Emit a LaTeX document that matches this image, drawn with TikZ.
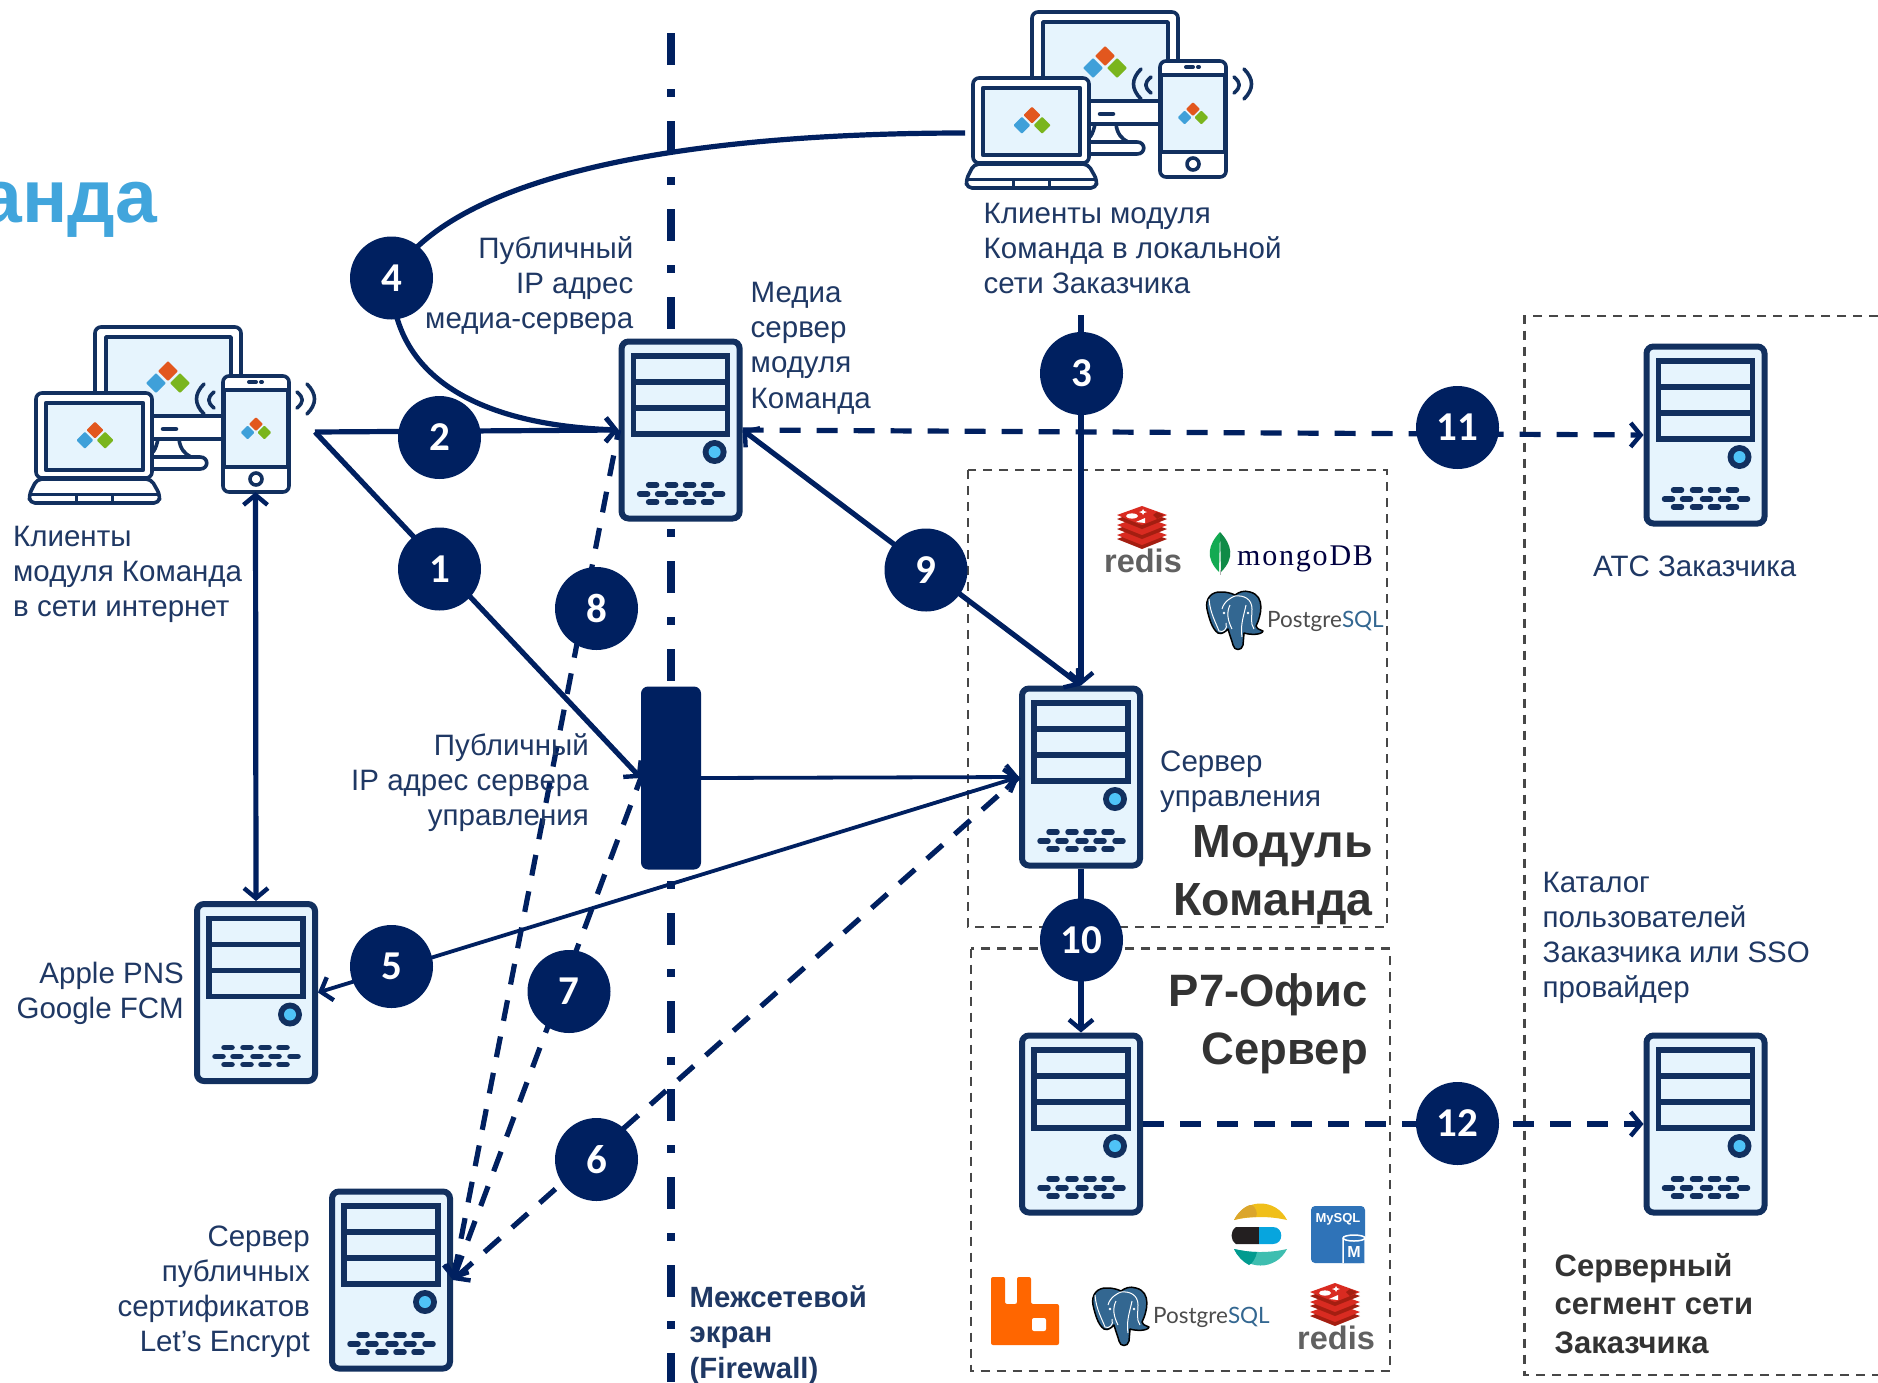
\documentclass[tikz,border=0pt]{standalone}
\usepackage{fontspec}
\setmainfont{Liberation Sans}
\newfontfamily\badgefont{Carlito}
\newfontfamily\mongofont[LetterSpace=6]{Liberation Serif}
\newfontfamily\pgfontx{Lato}
\usetikzlibrary{arrows.meta,shapes.geometric}
\definecolor{nv}{HTML}{002060}
\definecolor{sv}{HTML}{12305F}
\definecolor{lb}{HTML}{E6F4FD}
\definecolor{txt}{HTML}{1F3864}
\definecolor{hd}{HTML}{333333}
\definecolor{ttl}{HTML}{41A5DC}
\definecolor{lo}{HTML}{E2571E}
\definecolor{lbl}{HTML}{3FA0D9}
\definecolor{lg}{HTML}{7AB51D}
\definecolor{rb}{HTML}{D92B21}
\definecolor{rd}{HTML}{A41E11}
\definecolor{pgb}{HTML}{336791}
\definecolor{btn}{HTML}{4FC3F7}
\definecolor{mya}{HTML}{2F73B8}
\definecolor{rmq}{HTML}{FF6600}
\definecolor{elY}{HTML}{F0BF1A}
\definecolor{elYd}{HTML}{DBA62C}
\definecolor{elK}{HTML}{231F20}
\definecolor{elB}{HTML}{07A5DE}
\definecolor{elT}{HTML}{3EBEB0}
\definecolor{elTd}{HTML}{019B8F}
\definecolor{mgA}{HTML}{13AA52}
\definecolor{mgB}{HTML}{0F8B47}
\tikzset{
  x=1pt,y=-1pt,
  srv/.style={rectangle,draw=sv,fill=lb,line width=6pt,rounded corners=7pt,minimum width=118pt,minimum height=177pt,inner sep=0pt},
  badge/.style={circle,fill=nv,text=white,minimum size=83pt,inner sep=0pt,font=\badgefont\bfseries\fontsize{41}{41}\selectfont},
  conn/.style={draw=nv,line width=5.2pt,>={Straight Barb[length=10pt,width=24pt,line width=4.4pt]}},
  thinconn/.style={conn,line width=3.8pt},
  dconn/.style={conn,dash pattern=on 21pt off 16pt},
  dbox/.style={draw=black!72,line width=2.5pt,dash pattern=on 9pt off 7pt},
  txl/.style={anchor=north west,align=left,inner sep=0pt,text=txt,font=\fontsize{29.5}{35.2}\selectfont},
  txr/.style={anchor=north east,align=right,inner sep=0pt,text=txt,font=\fontsize{29.5}{35.2}\selectfont},
  hdr/.style={anchor=north east,align=right,inner sep=0pt,text=hd,font=\bfseries\fontsize{46.5}{58}\selectfont},
  icn/.style={draw=sv,line width=3.6pt,line join=round},
  key/.style={draw=sv,line width=5.5pt,line cap=round},
}
\newcommand{\srvd}[1]{%
  \begin{scope}[shift={(#1.center)}]
    \draw[sv,line width=5.5pt] (-47,-74) rectangle (47,4) (-47,-48) -- (47,-48) (-47,-22) -- (47,-22);
    \fill[sv] (34,22) circle (12);
    \fill[btn] (34,22) circle (6);
    \foreach \xx in {-28,-9,9,27} {\draw[key] (\xx-4,55) -- (\xx+4,55); \draw[key] (\xx-4,72) -- (\xx+4,72);}
    \foreach \xx in {-37,-19,1,19,38} {\draw[key] (\xx-4,64) -- (\xx+4,64);}
  \end{scope}}
\newcommand{\mdlogo}[3]{%
  \begin{scope}[shift={(#1,#2)},scale=#3]
    \fill[lo,rounded corners=1pt] (0,-17) -- (10,-7) -- (0,3) -- (-10,-7) -- cycle;
    \fill[lbl,rounded corners=1pt] (-12,-5) -- (-2,5) -- (-12,15) -- (-22,5) -- cycle;
    \fill[lg,rounded corners=1pt] (12,-5) -- (22,5) -- (12,15) -- (2,5) -- cycle;
  \end{scope}}
\newcommand{\devices}[2]{%
  \begin{scope}[shift={(#1,#2)}]
    \draw[icn,fill=white,rounded corners=6pt] (82,11) rectangle (228,123);
    \draw[icn,fill=lb] (93,21) rectangle (218,100);
    \mdlogo{155}{62}{1}
    \draw[icn,line width=4.5pt,line cap=round] (150,113) -- (163,113);
    \draw[icn,fill=white] (145,123) .. controls (143,133) and (140,138) .. (134,141) -- (187,141) .. controls (196,141) and (196,153) .. (187,153) -- (130,153);
    \draw[icn,fill=white] (166,123) .. controls (167,133) and (172,138) .. (178,141);
    \draw[icn,fill=white,rounded corners=6pt] (23,77) rectangle (139,162);
    \draw[icn,fill=lb,line width=4.2pt] (33,87) rectangle (130,154);
    \mdlogo{82}{120}{.85}
    \draw[icn,fill=white,rounded corners=5pt] (24,163) -- (16,179) -- (17,187) -- (146,187) -- (147,179) -- (138,163) -- cycle;
    \draw[icn,line width=3pt] (18,178) -- (145,178) (63,178) -- (63,187) (99,178) -- (99,187);
    \draw[icn,fill=white,rounded corners=6pt] (210,60) rectangle (276,176);
    \draw[icn,fill=lb,line width=3.2pt] (211,74) rectangle (275,151);
    \draw[icn,line cap=round,line width=4pt] (236,66) -- (243,66) (248,66) -- (249,66);
    \draw[icn,line width=3.6pt] (243,163) circle (6);
    \mdlogo{243}{113}{.7}
    \draw[icn,line cap=round] (191,68) .. controls (181,78) and (181,88) .. (191,98);
    \draw[icn,line cap=round] (201,76) .. controls (194,82) and (194,86) .. (201,92);
    \draw[icn,line cap=round] (294,68) .. controls (304,78) and (304,88) .. (294,98);
    \draw[icn,line cap=round] (284,76) .. controls (291,82) and (291,86) .. (284,92);
  \end{scope}}
\newcommand{\redislogo}[3]{%
  \begin{scope}[shift={(#1,#2)}]
    \foreach \dy in {20,10,0} {
      \fill[rd] (0,4+\dy) -- (25,13+\dy) -- (0,23+\dy) -- (-25,13+\dy) -- cycle;
      \fill[rb] (0,\dy) -- (25,9+\dy) -- (0,19+\dy) -- (-25,9+\dy) -- cycle;
    }
    \fill[white] (-10,10) ellipse (6 and 2.6);
    \fill[white] (1,3) -- (2,5) -- (5,6) -- (2,7) -- (1,9) -- (0,7) -- (-3,6) -- (0,5) -- cycle;
    \fill[white] (-6,16) -- (3,12) -- (3,17) -- cycle;
    \fill[rd] (15,6) -- (22,9) -- (15,13) -- (11,9) -- cycle;
    \node[inner sep=0pt,text=black!62,font=\bfseries\fontsize{32.5}{32.5}\selectfont] (#3) at (1,55) {redis};
  \end{scope}}
\newcommand{\pglogo}[3]{%
  \begin{scope}[shift={(#1,#2)}]
    \draw[black,line width=1.5pt,fill=pgb,line join=round] (16,1) .. controls (5,0) and (-1,8) .. (1,18) .. controls (3,27) and (6,38) .. (12,42) .. controls (16,44) and (20,40) .. (22,38) .. controls (24,45) and (26,50) .. (27,54) .. controls (28,60) and (36,60) .. (37,54) -- (38,42) .. controls (44,44) and (56,44) .. (57,40) .. controls (52,38) and (50,37) .. (50,35) .. controls (55,25) and (60,5) .. (44,1) .. controls (38,-1) and (33,1) .. (29,4) .. controls (25,2) and (20,1) .. (16,1) -- cycle;
    \draw[white,line width=1pt] (3,8) .. controls (4,22) and (10,32) .. (13,40) .. controls (17,42) and (22,38) .. (20,32) (16,18) .. controls (18,10) and (26,6) .. (29,5) .. controls (38,4) and (46,8) .. (46,18) .. controls (46,26) and (44,32) .. (48,38) (24,14) .. controls (20,22) and (22,30) .. (26,38) (40,14) .. controls (38,24) and (34,34) .. (36,46);
    \fill[white] (18,22) circle (1.4) (42,22) circle (1.4);
    \node[anchor=base west,inner sep=0pt,text=black!70,font=\pgfontx\fontsize{22.5}{22.5}\selectfont] (#3) at (61,36) {Postgre\textcolor{pgb}{SQL}};
  \end{scope}}
\begin{document}
\begin{tikzpicture}
\useasboundingbox[fill=white] (0,0) rectangle (1878,1382);
\coordinate (fwtop) at (671,33);
\coordinate (fwbot) at (671,1382);
\draw[nv,line width=8pt,dash pattern=on 32pt off 24pt on 8pt off 24pt] (fwtop) -- (fwbot);
\node[rectangle,fill=nv,rounded corners=7pt,minimum width=60pt,minimum height=183pt,inner sep=0pt] (fw) at (671,778) {};
\draw[dbox] (968,470) rectangle (1387,927);
\draw[dbox] (971,948.5) rectangle (1390,1371);
\coordinate (rbA) at (1878,316);
\coordinate (rbB) at (1524.7,316);
\coordinate (rbC) at (1524.7,1375);
\coordinate (rbD) at (1878,1375);
\draw[dbox] (rbA) -- (rbB) -- (rbC) -- (rbD);
\node[anchor=base east,inner sep=0pt,text=ttl,font=\bfseries\fontsize{75}{75}\selectfont] (title) at (157,222) {анда};
\devices{950}{1}
\devices{13}{316}
\coordinate (topdev) at (965,133);
\coordinate (hub) at (315,432);
\coordinate (phone) at (255.5,492);
\coordinate (lan) at (1081,315);
\node[srv] (ctrl) at (1081,777) {}; \srvd{ctrl}
\node[srv] (p7) at (1081,1124) {}; \srvd{p7}
\node[srv] (media) at (680.6,430) {}; \srvd{media}
\node[srv] (apple) at (256,992.5) {}; \srvd{apple}
\node[srv] (le) at (391,1280) {}; \srvd{le}
\node[srv] (atc) at (1705.5,435) {}; \srvd{atc}
\node[srv] (cat) at (1705.5,1124) {}; \srvd{cat}
\redislogo{1142}{506}{redisA}
\redislogo{1335}{1283}{redisB}
\pglogo{1206}{591}{pgA}
\pglogo{1092}{1287}{pgB}
\fill[mgA] (1220,532) .. controls (1208,545) and (1205,558) .. (1219,572) -- (1220,532);
\fill[mgB] (1220,532) .. controls (1232,545) and (1235,558) .. (1221,572) -- (1220,532);
\draw[black!30,line width=1pt] (1220,570) -- (1220,575);
\node[anchor=base west,inner sep=0pt,text=black!75!blue,font=\mongofont\fontsize{30}{30}\selectfont] (mongo) at (1237,565) {mongoDB};
\fill[elY] (1234,1220) .. controls (1245,1198) and (1276,1198) .. (1287,1220) .. controls (1270,1216) and (1250,1216) .. (1234,1220);
\fill[elYd] (1234,1220) .. controls (1240,1208) and (1250,1204) .. (1252,1205) .. controls (1256,1208) and (1258,1213) .. (1256,1217) .. controls (1248,1217) and (1240,1218) .. (1234,1220);
\fill[elK] (1236,1227) -- (1259,1227) -- (1259,1244) -- (1236,1244) .. controls (1230,1240) and (1230,1231) .. (1236,1227);
\fill[elB] (1259,1227) -- (1273,1227) .. controls (1284,1227) and (1284,1244) .. (1273,1244) -- (1259,1244) -- cycle;
\fill[elT] (1234,1249) .. controls (1250,1253) and (1270,1253) .. (1287,1249) .. controls (1276,1271) and (1245,1271) .. (1234,1249);
\fill[elTd] (1234,1249) .. controls (1240,1250) and (1248,1252) .. (1257,1252) .. controls (1256,1258) and (1252,1264) .. (1249,1265) .. controls (1243,1262) and (1237,1256) .. (1234,1249);
\fill[mya,rounded corners=4pt] (1311,1206) rectangle (1365,1263);
\node[inner sep=0pt,text=white,font=\bfseries\fontsize{13}{13}\selectfont] (mysql) at (1338,1219) {MySQL};
\draw[white,line width=1.5pt,fill=mya] (1343,1263) -- (1343,1238) arc[start angle=180,end angle=360,x radius=11,y radius=3] -- (1365,1263);
\draw[white,line width=1.5pt] (1343,1238) arc[start angle=180,end angle=0,x radius=11,y radius=3];
\node[inner sep=0pt,text=white,font=\bfseries\fontsize{16}{16}\selectfont] (mysqlm) at (1354,1252) {M};
\fill[rmq,rounded corners=2pt] (991,1277) -- (1005,1277) -- (1005,1304) -- (1017,1304) -- (1017,1277) -- (1031,1277) -- (1031,1304) -- (1059,1304) -- (1059,1345) -- (991,1345) -- cycle;
\fill[white,rounded corners=2pt] (1032,1318) rectangle (1046,1331);
\draw[conn,->] (hub) -- (media.west);
\draw[conn,->] (hub) -- (fw.west);
\draw[conn,<->] (phone) -- (apple.north);
\draw[thinconn,->] (fw.east) -- (ctrl.west);
\draw[thinconn,<->] (ctrl.west) -- (apple.east);
\draw[conn,->] (lan) -- (ctrl.north);
\draw[conn,<->] (media.east) -- (ctrl.north);
\draw[conn,->] (ctrl.south) -- (p7.north);
\coordinate (b4c) at (391.5,278);
\draw[conn,->] (topdev) .. controls (720,133) and (460,165) .. (b4c) .. controls (392,378) and (480,425) .. (media.west);
\draw[dconn,<-] (le.east) -- (ctrl.west);
\draw[dconn,<-] (le.east) -- (fw.west);
\draw[dconn,<-] (le.east) -- (media.west);
\draw[dconn,->] (media.east) -- (atc.west);
\draw[dconn,->] (p7.east) -- (cat.west);
\node[txl] (tA) at (13,525.5) {Клиенты\\модуля Команда\\в сети интернет};
\node[txl] (tB) at (983.5,203) {Клиенты модуля\\Команда в локальной\\сети Заказчика};
\node[txr] (tC) at (633.5,236) {Публичный\\IP адрес\\медиа-сервера};
\node[txl] (tD) at (750.5,282) {Медиа\\сервер\\модуля\\Команда};
\node[txr] (tE) at (589,733) {Публичный\\IP адрес сервера\\управления};
\node[txl] (tF) at (1160,750.5) {Сервер\\управления};
\node[hdr] (tG) at (1373,825) {Модуль\\Команда};
\node[hdr,font=\bfseries\fontsize{45.4}{58}\selectfont] (tH) at (1368,973) {Р7-Офис\\Сервер};
\node[txr] (tI) at (184,961.5) {Apple PNS\\Google FCM};
\node[txr] (tJ) at (310,1225.5) {Сервер\\публичных\\сертификатов\\Let\symbol{39}s Encrypt};
\node[txl] (tK) at (1593,556) {АТС Заказчика};
\node[txl] (tL) at (1542.5,871.5) {Каталог\\пользователей\\Заказчика или SSO\\провайдер};
\node[txl,font=\bfseries\fontsize{29.3}{35.5}\selectfont] (tM) at (689.5,1285) {Межсетевой\\экран\\(Firewall)};
\node[txl,text=hd,font=\bfseries\fontsize{31}{38.5}\selectfont] (tN) at (1554.5,1253) {Серверный\\сегмент сети\\Заказчика};
\node[badge] (b1) at (439.5,569) {1};
\node[badge] (b2) at (439.5,437.5) {2};
\node[badge] (b3) at (1081.5,373.5) {3};
\node[badge] (b4) at (391.5,278) {4};
\node[badge] (b5) at (391.5,966.5) {5};
\node[badge] (b6) at (596.5,1159.5) {6};
\node[badge] (b7) at (569,991.5) {7};
\node[badge] (b8) at (596.5,608.5) {8};
\node[badge] (b9) at (926,570) {9};
\node[badge] (b10) at (1081.5,940) {10};
\node[badge] (b11) at (1457.5,427.5) {11};
\node[badge] (b12) at (1457.5,1123.5) {12};
\end{tikzpicture}
\end{document}
